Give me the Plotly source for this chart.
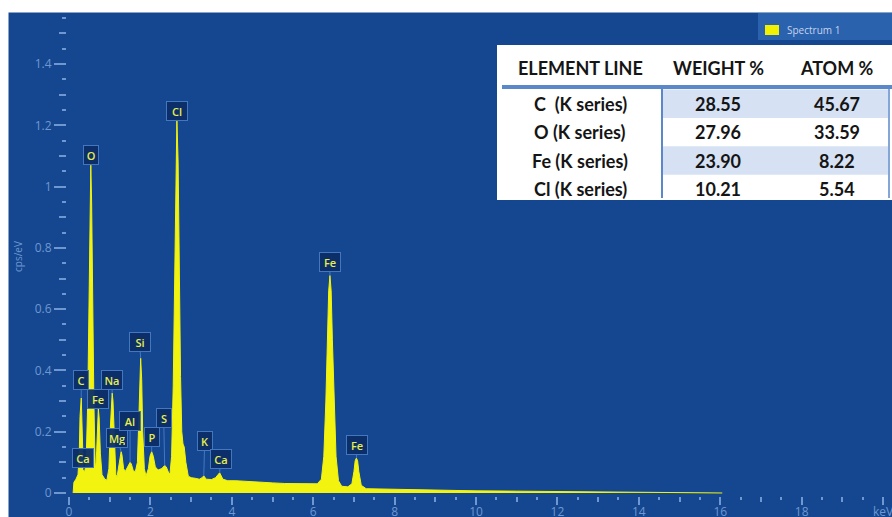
import numpy as np
import plotly.graph_objects as go

W, H = 892, 517

# ---- EDS spectrum (energy in keV, counts in cps/eV) ----
spectrum_kev = [
    0.10, 0.12, 0.17, 0.22, 0.25, 0.27, 0.30, 0.32, 0.35, 0.38,
    0.42, 0.46, 0.49, 0.515, 0.535, 0.555, 0.58, 0.61, 0.64, 0.655,
    0.68, 0.70, 0.72, 0.74, 0.77, 0.81, 0.88, 0.93,
    0.98, 1.01, 1.04, 1.06, 1.08, 1.11, 1.15, 1.18,
    1.23, 1.26, 1.28, 1.30, 1.34, 1.38,
    1.44, 1.48, 1.50, 1.53, 1.58, 1.63,
    1.68, 1.71, 1.735, 1.76, 1.785, 1.81, 1.85, 1.89,
    1.95, 1.99, 2.03, 2.07, 2.12, 2.19,
    2.28, 2.33, 2.35, 2.39, 2.45, 2.48,
    2.52, 2.56, 2.59, 2.62, 2.65, 2.68, 2.71, 2.74, 2.77,
    2.80, 2.83, 2.87, 2.93, 3.00, 3.10, 3.20, 3.27,
    3.31, 3.37, 3.50, 3.60, 3.70, 3.78, 3.90, 4.10, 4.40, 4.70,
    5.00, 5.30, 5.60, 5.90, 6.10,
    6.20, 6.26, 6.31, 6.35, 6.38, 6.41, 6.44, 6.47, 6.51, 6.56, 6.62,
    6.70, 6.85, 6.95, 7.00, 7.03, 7.06, 7.09, 7.12, 7.18,
    7.30, 7.60, 8.00, 8.50, 9.00, 10.0, 11.0, 12.0, 13.0, 14.0,
    15.0, 16.0, 16.05,
]
spectrum_cps = [
    0.000, 0.035, 0.045, 0.060, 0.120, 0.250, 0.310, 0.200, 0.080, 0.065,
    0.100, 0.300, 0.620, 0.950, 1.070, 0.950, 0.620, 0.300, 0.100, 0.075,
    0.140, 0.245, 0.275, 0.245, 0.130, 0.060, 0.045, 0.042,
    0.080, 0.200, 0.300, 0.326, 0.300, 0.180, 0.060, 0.053,
    0.090, 0.125, 0.135, 0.125, 0.080, 0.070,
    0.085, 0.098, 0.100, 0.095, 0.072, 0.070,
    0.100, 0.220, 0.370, 0.440, 0.370, 0.200, 0.080, 0.055,
    0.080, 0.120, 0.135, 0.120, 0.085, 0.075,
    0.080, 0.088, 0.090, 0.085, 0.065, 0.062,
    0.120, 0.350, 0.700, 1.080, 1.220, 1.080, 0.700, 0.380, 0.200,
    0.160, 0.150, 0.100, 0.055, 0.050, 0.048, 0.045, 0.050,
    0.056, 0.045, 0.044, 0.050, 0.066, 0.045, 0.040, 0.040, 0.037, 0.034,
    0.033, 0.031, 0.030, 0.029, 0.030,
    0.045, 0.120, 0.300, 0.500, 0.660, 0.710, 0.660, 0.500, 0.300, 0.120, 0.040,
    0.022, 0.020, 0.030, 0.070, 0.105, 0.114, 0.105, 0.070, 0.025,
    0.014, 0.013, 0.012, 0.011, 0.009, 0.007, 0.006, 0.005, 0.004, 0.003,
    0.002, 0.001, 0.000,
]

# ---- identified lines ----
peak_labels = ["Ca", "C", "O", "Fe", "Na", "Mg", "Al", "Si", "P", "S",
               "Cl", "K", "Ca", "Fe", "Fe"]
peak_kev = [0.36, 0.30, 0.535, 0.72, 1.06, 1.28, 1.50, 1.76, 2.03, 2.35,
            2.65, 3.31, 3.70, 6.41, 7.06]

# ---- quantification table ----
table_headers = ["ELEMENT LINE", "WEIGHT %", "ATOM %"]
table_elements = ["C  (K series)", "O (K series)", "Fe (K series)", "Cl (K series)"]
weight_pct = [28.55, 27.96, 23.90, 10.21]
atom_pct = [45.67, 33.59, 8.22, 5.54]

x_ticks = [0, 2, 4, 6, 8, 10, 12, 14, 16, 18, 20]
x_ticktext = ["0", "2", "4", "6", "8", "10", "12", "14", "16", "18", "keV"]

# ---- styling ----
PANEL = "#14478f"
YELLOW = "#f2f30e"
TICK = "#6f97d2"
LABEL_TXT = "#e6ee50"
LABEL_BG = "rgba(12,46,104,0.95)"
LABEL_EDGE = "#4377c0"
RULE = "#5b88c8"

# label box offsets from the peak tip, in pixels
label_offsets = [(-1, -12), (0, -18), (0, -10), (0, -10), (0, -13), (-4, -14),
                 (0, -41), (-1, -16), (0, -15), (-1, -47), (0, -8), (1, -35),
                 (1, -14), (0, -13), (1, -13)]


def fx(px):
    return px / W


def fy(py):
    return 1 - py / H


fig = go.Figure()

fig.add_trace(go.Scatter(
    x=spectrum_kev, y=spectrum_cps, mode="lines",
    line=dict(color=YELLOW, width=1), fill="tozeroy", fillcolor=YELLOW,
    name="Spectrum 1", showlegend=False, hoverinfo="skip",
))
# empty traces so the secondary tick axes are drawn
fig.add_trace(go.Scatter(x=[None], y=[None], xaxis="x2", yaxis="y",
                         showlegend=False, hoverinfo="skip"))
fig.add_trace(go.Scatter(x=[None], y=[None], xaxis="x", yaxis="y2",
                         showlegend=False, hoverinfo="skip"))

xr = [-0.05, 20.22]
yr = [-0.0098, 1.5676]
xdom = [67 / W, 1.0]
ydom = [fy(496), fy(12.7)]

tickfont = dict(family="Open Sans", size=12, color=TICK)

fig.update_layout(
    width=W, height=H, template="none",
    margin=dict(l=0, r=0, t=0, b=0),
    paper_bgcolor=PANEL, plot_bgcolor=PANEL,
    xaxis=dict(
        domain=xdom, range=xr, automargin=False, showgrid=False, zeroline=False,
        showline=False, tickmode="array", tickvals=x_ticks, ticktext=x_ticktext,
        ticks="outside", ticklen=8, tickwidth=2, tickcolor=TICK, tickfont=tickfont,
        ticklabelstandoff=-3, ticklabeloverflow="allow",
        minor=dict(dtick=0.5, tick0=0, ticks="outside", ticklen=3, tickwidth=2,
                   tickcolor=TICK, showgrid=False),
    ),
    xaxis2=dict(
        domain=xdom, range=xr, overlaying="x", anchor="y", automargin=False,
        showgrid=False, zeroline=False, showline=False, showticklabels=False,
        dtick=1, tick0=0, ticks="outside", ticklen=5, tickwidth=2, tickcolor=TICK,
    ),
    yaxis=dict(
        domain=ydom, range=yr, automargin=False, showgrid=False, zeroline=False,
        showline=False, dtick=0.2, tick0=0, ticks="outside", ticklen=12,
        tickwidth=2, tickcolor=TICK, tickfont=tickfont,
        minor=dict(dtick=0.05, tick0=0, ticks="outside", ticklen=4, tickwidth=2,
                   tickcolor=TICK, showgrid=False),
    ),
    yaxis2=dict(
        domain=ydom, range=yr, overlaying="y", anchor="x", side="left",
        automargin=False, showgrid=False, zeroline=False, showline=False,
        showticklabels=False, dtick=0.1, tick0=0, ticks="outside", ticklen=7,
        tickwidth=2, tickcolor=TICK,
    ),
)

shapes = []
annotations = []

# white frame strips around the panel
shapes.append(dict(type="rect", xref="paper", yref="paper", x0=0, x1=1,
                   y0=fy(12.5), y1=1, fillcolor="white", line_width=0))
shapes.append(dict(type="rect", xref="paper", yref="paper", x0=0, x1=fx(8.5),
                   y0=0, y1=1, fillcolor="white", line_width=0))

# y-axis title
annotations.append(dict(xref="paper", yref="paper", x=fx(18), y=fy(257),
                        xanchor="center", yanchor="middle",
                        text="cps/eV", textangle=-90, showarrow=False,
                        font=dict(family="Open Sans", size=10, color=TICK)))

# peak labels, anchored on the spectrum at each line energy
tip_y = np.interp(peak_kev, spectrum_kev, spectrum_cps)
for name, e, ty, (ax, ay) in zip(peak_labels, peak_kev, tip_y, label_offsets):
    annotations.append(dict(
        x=e, y=float(ty), xref="x", yref="y", text=name,
        showarrow=True, arrowhead=0, arrowwidth=1, arrowcolor=LABEL_EDGE,
        ax=ax, ay=ay, standoff=0,
        font=dict(family="Open Sans", size=11, color=LABEL_TXT, weight=600),
        bgcolor=LABEL_BG, bordercolor=LABEL_EDGE, borderwidth=1, borderpad=2,
        width=10 if len(name) == 1 else 16, height=14, align="center",
    ))

# legend box
shapes.append(dict(type="rect", xref="paper", yref="paper", x0=fx(758), x1=1,
                   y0=fy(40), y1=fy(13), fillcolor="#2a62ae", line_width=0))
shapes.append(dict(type="rect", xref="paper", yref="paper", x0=fx(765), x1=fx(779),
                   y0=fy(35), y1=fy(25), fillcolor="#f0f000", line_width=0))
annotations.append(dict(xref="paper", yref="paper", x=fx(785), y=fy(29.5),
                        xanchor="left", yanchor="middle", text="Spectrum 1",
                        showarrow=False,
                        font=dict(family="Open Sans", size=10, color="#c6d3ec")))

# quantification table
shapes.append(dict(type="rect", xref="paper", yref="paper", x0=fx(497), x1=1,
                   y0=fy(200), y1=fy(45), fillcolor="white", line_width=0))
shapes.append(dict(type="rect", xref="paper", yref="paper", x0=fx(502), x1=1,
                   y0=fy(89), y1=fy(85), fillcolor=RULE, line_width=0))
row_top, row_h = 89.5, 28.4
for i in range(len(table_elements)):
    if i % 2 == 0:
        shapes.append(dict(type="rect", xref="paper", yref="paper",
                           x0=fx(663), x1=fx(888),
                           y0=fy(row_top + (i + 1) * row_h), y1=fy(row_top + i * row_h),
                           fillcolor="#d6e2f3", line_width=0))
shapes.append(dict(type="line", xref="paper", yref="paper", x0=fx(662), x1=fx(662),
                   y0=fy(198), y1=fy(89), line=dict(color=RULE, width=2)))
shapes.append(dict(type="line", xref="paper", yref="paper", x0=fx(889), x1=fx(889),
                   y0=fy(198), y1=fy(89), line=dict(color=RULE, width=1.5)))

col_x = [580, 718, 837]
tfont = dict(family="Lato", size=18, color="#151515", weight="bold")
for cx, h in zip(col_x, table_headers):
    annotations.append(dict(xref="paper", yref="paper", x=fx(cx), y=fy(68),
                            xanchor="center", yanchor="middle",
                            text=h, showarrow=False, font=tfont))
for i, (el, w, a) in enumerate(zip(table_elements, weight_pct, atom_pct)):
    cy = row_top + (i + 0.5) * row_h
    for cx, txt in zip(col_x, [el, f"{w:.2f}", f"{a:.2f}"]):
        annotations.append(dict(xref="paper", yref="paper", x=fx(cx), y=fy(cy),
                                xanchor="center", yanchor="middle",
                                text=txt, showarrow=False, font=tfont))

fig.update_layout(shapes=shapes, annotations=annotations)

fig.write_html("out.html")
